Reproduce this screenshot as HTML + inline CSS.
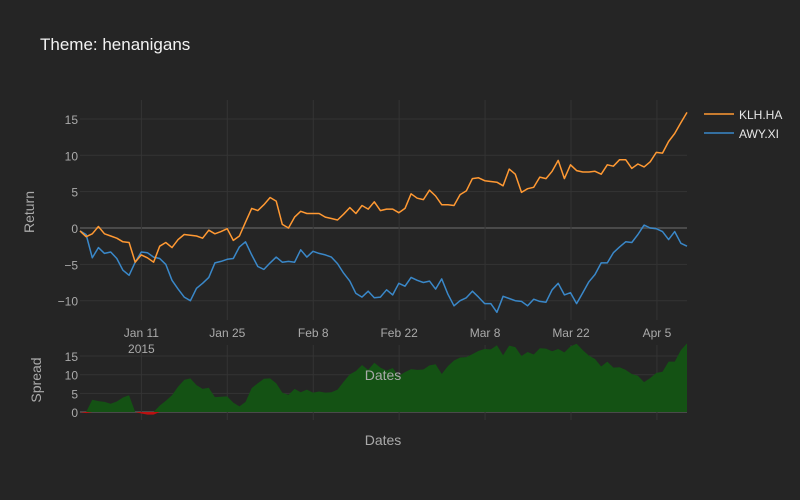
<!DOCTYPE html>
<html><head><meta charset="utf-8"><style>
html,body{margin:0;padding:0;background:#252525;}
svg{display:block;font-family:"Liberation Sans",sans-serif;}
</style></head><body>
<svg id="chart" width="800" height="500" viewBox="0 0 800 500">
<rect x="0" y="0" width="800" height="500" fill="#252525"/>
<text x="40" y="50" fill="#f2f2f2" font-size="17">Theme: henanigans</text>
<g id="grid"></g>
<g id="marks"></g>
<g id="labels"></g>
<text transform="translate(34,212) rotate(-90)" text-anchor="middle" fill="#aaaaaa" font-size="14">Return</text>
<text transform="translate(41,380) rotate(-90)" text-anchor="middle" fill="#aaaaaa" font-size="14">Spread</text>
<text x="383" y="380" text-anchor="middle" fill="#aaaaaa" font-size="14">Dates</text>
<text x="383" y="445" text-anchor="middle" fill="#aaaaaa" font-size="14">Dates</text>
<g>
<line x1="704" y1="114" x2="734" y2="114" stroke="#ff9933" stroke-width="1.5"/>
<text x="739" y="119" fill="#e6e6e6" font-size="12">KLH.HA</text>
<line x1="704" y1="133" x2="734" y2="133" stroke="#3a88c9" stroke-width="1.5"/>
<text x="739" y="138" fill="#e6e6e6" font-size="12">AWY.XI</text>
</g>
</svg>
<script>
const klh = [-0.4,-1.2,-0.8,0.2,-0.8,-1.1,-1.4,-1.9,-2.0,-4.7,-3.7,-4.1,-4.7,-2.5,-2.0,-2.7,-1.6,-0.9,-1.0,-1.1,-1.4,-0.3,-0.8,-0.5,-0.1,-1.7,-1.1,0.8,2.7,2.4,3.2,4.2,3.7,0.5,0,1.5,2.3,2.0,2.0,2.0,1.5,1.3,1.1,1.9,2.8,2.0,3.1,2.6,3.6,2.4,2.6,2.6,2.1,2.7,4.7,4.1,3.9,5.2,4.4,3.2,3.2,3.1,4.6,5.1,6.8,6.9,6.5,6.4,6.3,5.8,8.1,7.4,4.9,5.4,5.6,7.0,6.8,7.8,9.3,6.8,8.7,7.9,7.7,7.7,7.8,7.4,8.7,8.5,9.4,9.4,8.2,8.8,8.4,9.1,10.4,10.3,11.9,13.0,14.5,15.9];
const awy = [-0.4,-0.9,-4.1,-2.7,-3.5,-3.3,-4.2,-5.8,-6.5,-4.7,-3.3,-3.4,-4.0,-4.2,-5.0,-7.2,-8.4,-9.5,-10.0,-8.3,-7.6,-6.8,-4.8,-4.6,-4.3,-4.2,-2.6,-1.9,-3.7,-5.3,-5.7,-4.8,-4.0,-4.7,-4.6,-4.7,-3.0,-4.0,-3.2,-3.5,-3.7,-4.0,-4.9,-6.2,-7.3,-9.0,-9.5,-8.7,-9.6,-9.5,-8.5,-9.2,-7.6,-8.0,-6.8,-7.2,-7.5,-7.3,-8.4,-7.0,-9.1,-10.7,-10.0,-9.6,-8.7,-9.5,-10.4,-10.4,-11.6,-9.4,-9.7,-10.0,-10.1,-10.7,-9.8,-10.1,-10.2,-8.5,-7.6,-9.2,-8.9,-10.4,-8.9,-7.4,-6.4,-4.8,-4.8,-3.4,-2.6,-1.9,-2.0,-0.9,0.4,0,-0.1,-0.5,-1.6,-0.5,-2.1,-2.5];
const yTicks = [-10,-5,0,5,10,15];
const yTickLabels = ["\u221210","\u22125","0","5","10","15"];
const spreadTicks = [0,5,10,15];
const xTickDays = [10,24,38,52,66,80,94];
const xTickLabels = ["Jan 11","Jan 25","Feb 8","Feb 22","Mar 8","Mar 22","Apr 5"];

const NS = "http://www.w3.org/2000/svg";
const x0 = 80, x1 = 687;
const n = klh.length;
const xs = i => x0 + (x1 - x0) * i / (n - 1);
const ys = v => 228 - v * 7.27;
const ss = v => 412 - v * 3.73;
function mk(tag, attrs, parent) {
  const e = document.createElementNS(NS, tag);
  for (const k in attrs) e.setAttribute(k, attrs[k]);
  parent.appendChild(e);
  return e;
}
const grid = document.getElementById('grid');
const marks = document.getElementById('marks');
const labels = document.getElementById('labels');

yTicks.forEach((t, k) => {
  const l = mk('line', {x1: x0, x2: x1, y1: ys(t), y2: ys(t), stroke: t === 0 ? '#4a4a4a' : '#343434', 'stroke-width': t === 0 ? 2 : 1}, grid);
  
  
  const tx = mk('text', {x: 78, y: ys(t) + 5, 'text-anchor': 'end', fill: '#aaaaaa', 'font-size': 12}, labels);
  tx.textContent = yTickLabels[k];
  
  
});
spreadTicks.forEach(t => {
  const l = mk('line', {x1: x0, x2: x1, y1: ss(t), y2: ss(t), stroke: t === 0 ? '#4a4a4a' : '#343434', 'stroke-width': t === 0 ? 2 : 1}, grid);
  
  
  const tx = mk('text', {x: 78, y: ss(t) + 5, 'text-anchor': 'end', fill: '#aaaaaa', 'font-size': 12}, labels);
  tx.textContent = String(t);
  
  
});
xTickDays.forEach((d, k) => {
  const x = xs(d * (n - 1) / 98.9);
  const l = mk('line', {x1: x, x2: x, y1: 100, y2: 320, stroke: '#343434'}, grid);
  
  
  const l2 = mk('line', {x1: x, x2: x, y1: 345, y2: 420, stroke: '#343434'}, grid);
  
  
  const tx = mk('text', {x: x, y: 337, 'text-anchor': 'middle', fill: '#aaaaaa', 'font-size': 12}, labels);
  tx.textContent = xTickLabels[k];
  
  
});
const yr = mk('text', {x: xs(xTickDays[0] * (n - 1) / 98.9), y: 353, 'text-anchor': 'middle', fill: '#aaaaaa', 'font-size': 12}, labels);
yr.textContent = '2015';



// spread areas
const spread = klh.map((v, i) => v - awy[i]);
let gp = 'M' + xs(0) + ',' + ss(0);
let rp = 'M' + xs(0) + ',' + ss(0);
spread.forEach((v, i) => {
  gp += ' L' + xs(i) + ',' + ss(Math.max(v, 0));
  rp += ' L' + xs(i) + ',' + ss(Math.min(v, 0));
});
gp += ' L' + xs(n - 1) + ',' + ss(0) + ' Z';
rp += ' L' + xs(n - 1) + ',' + ss(0) + ' Z';
const ga = mk('path', {d: gp, fill: '#145214', stroke: 'none'}, marks);


const ra = mk('path', {d: rp, fill: '#bb1111', stroke: 'none'}, marks);



function line(arr, color, name) {
  const d = arr.map((v, i) => (i ? 'L' : 'M') + xs(i).toFixed(1) + ',' + ys(v).toFixed(1)).join(' ');
  const p = mk('path', {d: d, fill: 'none', stroke: color, 'stroke-width': 1.5, 'stroke-linejoin': 'round'}, marks);
  
  
}
line(awy, '#3a88c9', 'line-awy-xi');
line(klh, '#ff9933', 'line-klh-ha');
</script>
</body></html>
